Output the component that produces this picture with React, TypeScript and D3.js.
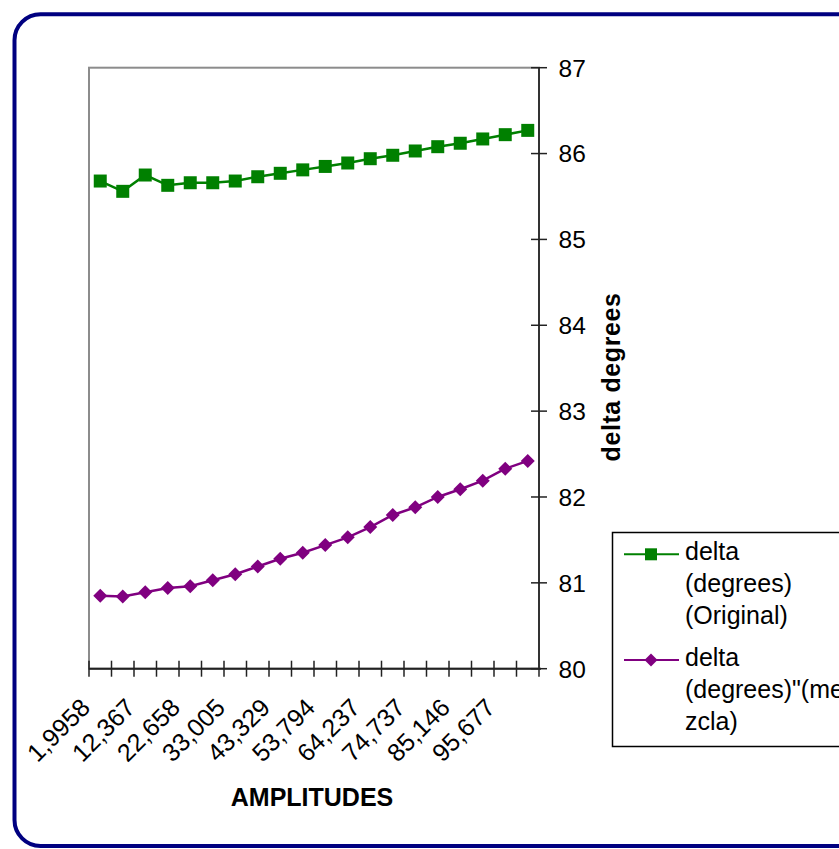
import React from "react";
import * as d3 from "d3";

// Amplitude tick labels (every other category is labelled)
const tickLabels = ["1,9958", "12,367", "22,658", "33,005", "43,329", "53,794", "64,237", "74,737", "85,146", "95,677"];
const categoryCount = 20;
const labelEvery = 2;

// delta (degrees) (Original)
const seriesOriginal = [85.68, 85.56, 85.75, 85.63, 85.66, 85.66, 85.68, 85.73, 85.77, 85.81,
  85.85, 85.89, 85.94, 85.98, 86.03, 86.08, 86.12, 86.17, 86.22, 86.27];
// delta (degrees)"(mezcla)
const seriesMezcla = [80.85, 80.84, 80.89, 80.94, 80.96, 81.03, 81.10, 81.19, 81.28, 81.35,
  81.44, 81.53, 81.65, 81.79, 81.88, 82.00, 82.09, 82.19, 82.33, 82.42];

const yTicks = [80, 81, 82, 83, 84, 85, 86, 87];
const legendOriginal = ["delta", "(degrees)", "(Original)"];
const legendMezcla = ["delta", "(degrees)\"(me", "zcla)"];

const W = 839;
const H = 849;
const FONT = "'Liberation Sans', Arial, sans-serif";
const GREEN = "#008000";
const PURPLE = "#800080";

export default function App() {
  const plot = { left: 89, right: 539, top: 67.7, bottom: 668.7 };
  const idx = d3.range(categoryCount);
  const x = d3.scaleBand<number>().domain(idx).range([plot.left, plot.right]).paddingInner(0).paddingOuter(0);
  const cx = (i: number) => (x(i) as number) + x.bandwidth() / 2;
  const y = d3.scaleLinear().domain([80, 87]).range([plot.bottom, plot.top]);

  const line = d3.line<number>().x((_, i) => cx(i)).y((v) => y(v));
  const square = d3.symbol().type(d3.symbolSquare).size(13 * 13);
  const diamond = (r: number) => `M0,${-r}L${r},0L0,${r}L${-r},0Z`;

  const tickXs = d3.range(categoryCount + 1).map((i) => plot.left + i * x.bandwidth());

  return (
    <svg width={W} height={H} style={{ position: "fixed", left: 0, top: 0, background: "#fff" }}>
      <rect x={0} y={0} width={W} height={H} fill="#fff" />
      {/* chart frame */}
      <rect x={14.5} y={14.3} width={850} height={831.7} rx={26} ry={26} fill="#fff" stroke="#000080" strokeWidth={4} />

      {/* plot area border */}
      <rect x={plot.left} y={plot.top} width={plot.right - plot.left} height={plot.bottom - plot.top}
        fill="none" stroke="#8c8c8c" strokeWidth={2} />

      {/* x axis */}
      <line x1={plot.left} x2={plot.right + 2} y1={plot.bottom} y2={plot.bottom} stroke="#222" strokeWidth={2} />
      {tickXs.map((tx, i) => (
        <line key={"xt" + i} x1={tx} x2={tx} y1={plot.bottom - 8} y2={plot.bottom + 8} stroke="#222" strokeWidth={1.5} />
      ))}
      {tickLabels.map((t, k) => {
        const i = k * labelEvery;
        const ax = cx(i) - 15;
        const ay = plot.bottom + 34;
        return (
          <text key={"xl" + k} transform={`translate(${ax},${ay}) rotate(-45)`} textAnchor="end" dy="0.36em"
            fontFamily={FONT} fontSize={25} fill="#000">{t}</text>
        );
      })}
      <text x={312} y={806} textAnchor="middle" fontFamily={FONT} fontSize={25} fontWeight="bold" fill="#000">AMPLITUDES</text>

      {/* y axis (right) */}
      <line x1={plot.right} x2={plot.right} y1={plot.top} y2={plot.bottom} stroke="#333" strokeWidth={2} />
      {yTicks.map((v) => (
        <g key={"yt" + v}>
          <line x1={plot.right - 8} x2={plot.right + 8} y1={y(v)} y2={y(v)} stroke="#222" strokeWidth={1.5} />
          <text x={558.5} y={y(v)} dy="0.36em" fontFamily={FONT} fontSize={24.5} fill="#000">{v}</text>
        </g>
      ))}
      <text transform={`translate(620,377) rotate(-90)`} textAnchor="middle" fontFamily={FONT} fontSize={25}
        fontWeight="bold" letterSpacing={0.6} fill="#000">delta degrees</text>

      {/* series */}
      <path d={line(seriesOriginal) || ""} fill="none" stroke={GREEN} strokeWidth={2.5} />
      {seriesOriginal.map((v, i) => (
        <path key={"g" + i} d={square() || ""} transform={`translate(${cx(i)},${y(v)})`} fill={GREEN} />
      ))}
      <path d={line(seriesMezcla) || ""} fill="none" stroke={PURPLE} strokeWidth={2.5} />
      {seriesMezcla.map((v, i) => (
        <path key={"p" + i} d={diamond(7)} transform={`translate(${cx(i)},${y(v)})`} fill={PURPLE} />
      ))}

      {/* legend */}
      <rect x={612.5} y={532.5} width={260} height={214} fill="#fff" stroke="#000" strokeWidth={1.5} />
      <line x1={624} x2={679} y1={554.3} y2={554.3} stroke={GREEN} strokeWidth={2} />
      <path d={d3.symbol().type(d3.symbolSquare).size(144)() || ""} transform="translate(651,554.3)" fill={GREEN} />
      {legendOriginal.map((t, i) => (
        <text key={"lo" + i} x={685} y={560 + i * 32} fontFamily={FONT} fontSize={25} fill="#000">{t}</text>
      ))}
      <line x1={624} x2={679} y1={660} y2={660} stroke={PURPLE} strokeWidth={2} />
      <path d={diamond(6.5)} transform="translate(651,660)" fill={PURPLE} />
      {legendMezcla.map((t, i) => (
        <text key={"lm" + i} x={685} y={665.7 + i * 32} fontFamily={FONT} fontSize={25} fill="#000">{t}</text>
      ))}
    </svg>
  );
}
